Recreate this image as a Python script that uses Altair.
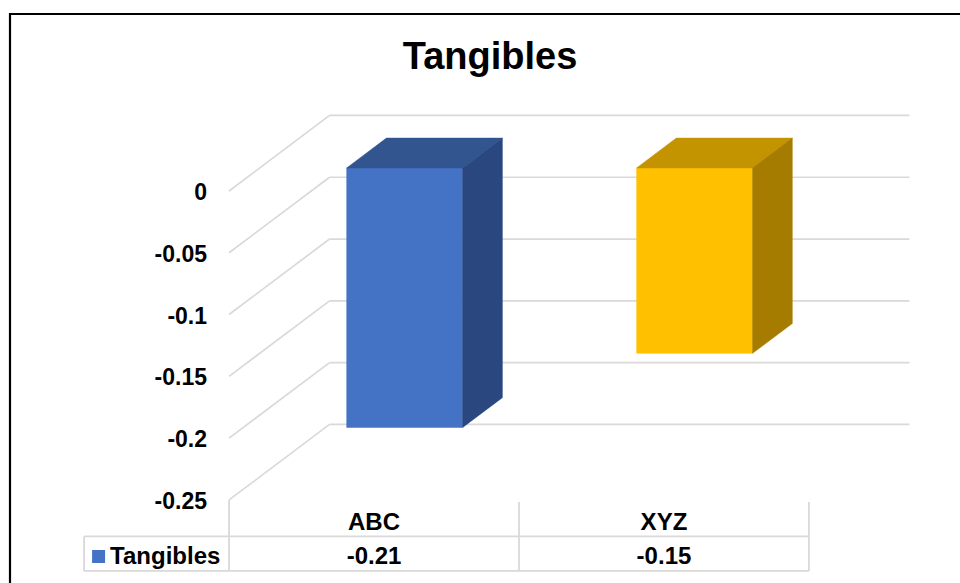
import altair as alt
import pandas as pd

# ---- data -------------------------------------------------------------
categories = ["ABC", "XYZ"]
values = [-0.21, -0.15]
series_name = "Tangibles"
tick_values = [0, -0.05, -0.1, -0.15, -0.2, -0.25]

front_colors = ["#4472C4", "#FFC000"]
top_colors = ["#32548F", "#C49300"]
side_colors = ["#2A4780", "#A67C00"]

# ---- geometry (in scale units: x counts category slots, y is the value) --
WIDTH, HEIGHT = 960, 583
X_DOMAIN = [-0.79, 2.521]
Y_DOMAIN = [-0.3172, 0.1545]
DEPTH_X = 0.3466          # shift from front wall to back wall, x units
DEPTH_Y = 0.0611          # shift from front wall to back wall, value units
BAR_WIDTH = 0.4
BAR_FRONT, BAR_BACK = 0.305, 0.70   # depth of the column's front/back faces
FLOOR = min(tick_values)
N = len(categories)
LABEL_X = -0.076          # right edge of the value-axis labels

# data table below the floor
HEADER_TOP = FLOOR - 0.0016
ROW_LINE = -0.2795
TABLE_BOTTOM = -0.3074
HEADER_TEXT = -0.2678
ROW_TEXT = -0.2957
LEGEND_LEFT = -0.5

GRID = "#D9D9D9"
FONT = "Liberation Sans"

x_scale = alt.Scale(domain=X_DOMAIN, nice=False, zero=False)
y_scale = alt.Scale(domain=Y_DOMAIN, nice=False, zero=False)


def X(field="x"):
    return alt.X(f"{field}:Q", scale=x_scale, axis=None)


def Y(field="y"):
    return alt.Y(f"{field}:Q", scale=y_scale, axis=None)


# ---- walls: back-wall gridlines and side-wall diagonals ---------------
back_lines = pd.DataFrame(
    [{"x": DEPTH_X, "x2": N + DEPTH_X, "y": t + DEPTH_Y, "y2": t + DEPTH_Y}
     for t in tick_values]
)
side_lines = pd.DataFrame(
    [{"x": 0.0, "x2": DEPTH_X, "y": t, "y2": t + DEPTH_Y} for t in tick_values]
)

back_grid = alt.Chart(back_lines).mark_rule(color=GRID, strokeWidth=1.7).encode(
    x=X(), x2="x2", y=Y(), y2="y2"
)
side_grid = alt.Chart(side_lines).mark_rule(color=GRID, strokeWidth=1.7).encode(
    x=X(), x2="x2", y=Y(), y2="y2"
)

# value-axis labels on the front edge of the side wall
tick_labels = pd.DataFrame(
    [{"x": LABEL_X, "y": t, "label": "0" if t == 0 else f"{t:g}"}
     for t in tick_values]
)
axis_text = alt.Chart(tick_labels).mark_text(
    font=FONT, fontSize=23, fontWeight="bold", color="black",
    align="right", baseline="middle", dy=2,
).encode(x=X(), y=Y(), text="label:N")

# ---- columns: front rectangle, top and side parallelograms -------------
fronts, areas = [], []
for i, (cat, v) in enumerate(zip(categories, values)):
    xc = i + 0.5
    xl0 = xc - BAR_WIDTH / 2 + BAR_FRONT * DEPTH_X
    xr0 = xc + BAR_WIDTH / 2 + BAR_FRONT * DEPTH_X
    xl1 = xc - BAR_WIDTH / 2 + BAR_BACK * DEPTH_X
    xr1 = xc + BAR_WIDTH / 2 + BAR_BACK * DEPTH_X
    top0, top1 = BAR_FRONT * DEPTH_Y, BAR_BACK * DEPTH_Y
    bot0, bot1 = v + BAR_FRONT * DEPTH_Y, v + BAR_BACK * DEPTH_Y
    fronts.append({"cat": cat, "x": xl0, "x2": xr0, "y": top0, "y2": bot0,
                   "color": front_colors[i]})
    top_id, side_id = f"{cat}-top", f"{cat}-side"
    for x, y, y2 in [(xl0, top0, top0), (xl1, top1, top0),
                     (xr0, top1, top0), (xr1, top1, top1)]:
        areas.append({"face": top_id, "x": x, "y": y, "y2": y2,
                      "color": top_colors[i]})
    for x, y, y2 in [(xr0, top0, bot0), (xr1, top1, bot1)]:
        areas.append({"face": side_id, "x": x, "y": y, "y2": y2,
                      "color": side_colors[i]})

front_faces = alt.Chart(pd.DataFrame(fronts)).mark_rect(strokeWidth=0.5).encode(
    x=X(), x2="x2", y=Y(), y2="y2",
    color=alt.Color("color:N", scale=None),
    stroke=alt.Stroke("color:N", scale=None),
)
other_faces = alt.Chart(pd.DataFrame(areas)).mark_area(strokeWidth=0.5).encode(
    x=X(), y=Y(), y2="y2",
    detail="face:N",
    color=alt.Color("color:N", scale=None),
    stroke=alt.Stroke("color:N", scale=None),
)

# ---- data table ------------------------------------------------------
table_rules = [
    {"x": LEGEND_LEFT, "x2": N, "y": ROW_LINE, "y2": ROW_LINE},
    {"x": LEGEND_LEFT, "x2": N, "y": TABLE_BOTTOM, "y2": TABLE_BOTTOM},
    {"x": LEGEND_LEFT, "x2": LEGEND_LEFT, "y": ROW_LINE, "y2": TABLE_BOTTOM},
]
for i in range(N + 1):
    table_rules.append({"x": i, "x2": i,
                        "y": FLOOR if i == 0 else HEADER_TOP,
                        "y2": TABLE_BOTTOM})
table_lines = alt.Chart(pd.DataFrame(table_rules)).mark_rule(
    color=GRID, strokeWidth=1.8
).encode(x=X(), x2="x2", y=Y(), y2="y2")

cells = []
for i, (cat, v) in enumerate(zip(categories, values)):
    cells.append({"x": i + 0.5, "y": HEADER_TEXT, "label": cat})
    cells.append({"x": i + 0.5, "y": ROW_TEXT, "label": f"{v:g}"})
cell_text = alt.Chart(pd.DataFrame(cells)).mark_text(
    font=FONT, fontSize=24, fontWeight="bold", color="black",
    align="center", baseline="middle", dy=1,
).encode(x=X(), y=Y(), text="label:N")

legend_key = alt.Chart(pd.DataFrame([{
    "x": LEGEND_LEFT + 0.0276, "x2": LEGEND_LEFT + 0.0724,
    "y": ROW_TEXT + 0.0053, "y2": ROW_TEXT - 0.0053,
}])).mark_rect(color=front_colors[0]).encode(x=X(), x2="x2", y=Y(), y2="y2")

legend_text = alt.Chart(pd.DataFrame([{
    "x": LEGEND_LEFT + 0.0897, "y": ROW_TEXT, "label": series_name,
}])).mark_text(
    font=FONT, fontSize=24, fontWeight="bold", color="black",
    align="left", baseline="middle", dy=1,
).encode(x=X(), y=Y(), text="label:N")

# ---- title and chart frame -------------------------------------------
title = alt.Chart(pd.DataFrame([{"label": series_name}])).mark_text(
    font=FONT, fontSize=38, fontWeight="bold", color="black",
    align="center", baseline="alphabetic",
).encode(x=alt.value(490), y=alt.value(69), text="label:N")

frame = alt.Chart(pd.DataFrame([{"k": 0}])).mark_rect(
    filled=False, stroke="black", strokeWidth=2.2, fill=None
).encode(x=alt.value(10), x2=alt.value(1000), y=alt.value(14), y2=alt.value(640))

chart = alt.layer(
    back_grid, side_grid, axis_text, table_lines, front_faces, other_faces,
    cell_text, legend_key, legend_text, title, frame,
).properties(
    width=WIDTH, height=HEIGHT, padding=0, autosize=alt.AutoSizeParams(type="none"),
    background="white",
).configure_view(stroke=None)

chart.save("out.html", embed_options={"renderer": "svg", "actions": False})
